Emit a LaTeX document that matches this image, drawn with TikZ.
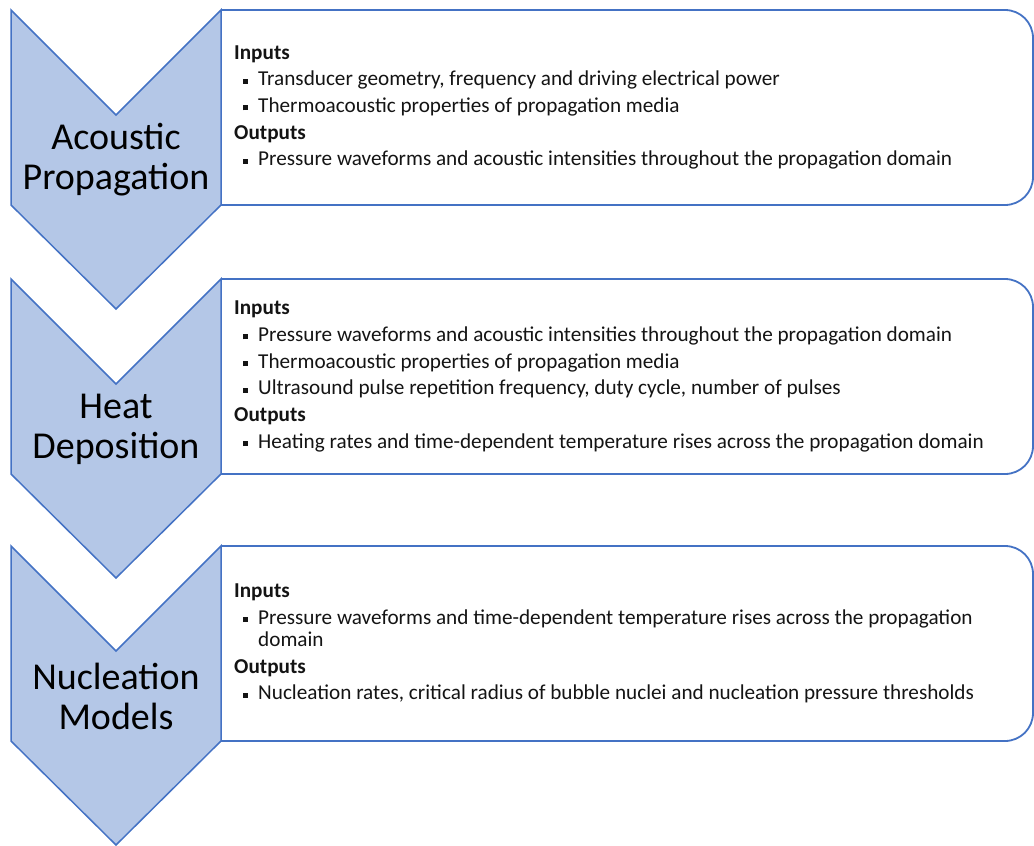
\documentclass[tikz,border=0pt]{standalone}
\usepackage{fontspec}
\setmainfont{Carlito}
\usetikzlibrary{positioning}
\definecolor{StageFill}{RGB}{180, 199, 231}
\definecolor{StageBlue}{RGB}{68, 114, 196}
\definecolor{NoteText}{RGB}{20, 20, 20}
\newcommand{\bul}{\hspace*{9pt}\rule[2.2pt]{5pt}{5pt}\hspace{10pt}}

\begin{document}
\begin{tikzpicture}[x=1pt, y=-1pt,
    stage/.style={fill=StageFill, draw=StageBlue, line width=1.5pt, line join=miter},
    panel/.style={draw=StageBlue, line width=1.8pt, fill=white, rounded corners=28pt},
    title/.style={font=\fontsize{38}{40}\selectfont, align=center, text=black, inner sep=0pt},
    notes/.style={anchor=west, align=left, inner sep=0pt, text=NoteText,
                  font=\fontsize{21.2}{26.7}\selectfont}]

    \useasboundingbox (0,0) rectangle (1034,846);

    % --- Stages (panel first, chevron on top) ---
    \foreach \y/\name/\label in {10/acoustic/{Acoustic\\Propagation},
                                 279/heat/{Heat\\Deposition},
                                 546/nucleation/{Nucleation\\Models}} {
        \draw[panel] (221,\y) -- (1033,\y) -- (1033,\y+195) -- (221,\y+195);
        \draw[stage] (11,\y) -- (116,\y+105) -- (221,\y) -- (221,\y+195)
                     -- (116,\y+299) -- (11,\y+195) -- cycle;
        \node[title] (\name) at (116,\y+150) {\label};
        \coordinate (\name-notes) at (234,\y+97.5);
    }

    % --- Inputs / Outputs ---
    \node[notes] (acoustic-io) at (acoustic-notes) {%
        \textbf{Inputs}\\
        \bul Transducer geometry, frequency and driving electrical power\\
        \bul Thermoacoustic properties of propagation media\\
        \textbf{Outputs}\\
        \bul Pressure waveforms and acoustic intensities throughout the propagation domain};

    \node[notes] (heat-io) at (heat-notes) {%
        \textbf{Inputs}\\
        \bul Pressure waveforms and acoustic intensities throughout the propagation domain\\
        \bul Thermoacoustic properties of propagation media\\
        \bul Ultrasound pulse repetition frequency, duty cycle, number of pulses\\
        \textbf{Outputs}\\
        \bul Heating rates and time-dependent temperature rises across the propagation domain};

    \node[notes] (nucleation-io) at (nucleation-notes) {%
        \textbf{Inputs}\\
        \bul Pressure waveforms and time-dependent temperature rises across the propagation\\[-4.7pt]
        \hspace*{24pt}domain\\
        \textbf{Outputs}\\
        \bul Nucleation rates, critical radius of bubble nuclei and nucleation pressure thresholds};

\end{tikzpicture}
\end{document}
